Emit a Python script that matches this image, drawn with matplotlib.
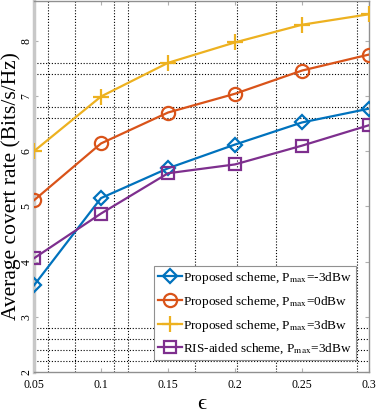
import matplotlib
matplotlib.use("Agg")
import matplotlib.pyplot as plt

eps = [0.05, 0.10, 0.15, 0.20, 0.25, 0.30]
prop_m3 = [3.57, 5.15, 5.69, 6.12, 6.52, 6.77]
prop_0 = [5.11, 6.14, 6.70, 7.04, 7.46, 7.75]
prop_3 = [6.00, 6.99, 7.60, 7.97, 8.29, 8.48]
ris_m3 = [4.06, 4.87, 5.60, 5.76, 6.10, 6.47]

labels = [r'Proposed scheme, P$_{\mathrm{max}}$=-3dBw',
          r'Proposed scheme, P$_{\mathrm{max}}$=0dBw',
          r'Proposed scheme, P$_{\mathrm{max}}$=3dBw',
          r'RIS-aided scheme, P$_{\mathrm{max}}$=3dBw']
xticks = [0.05, 0.1, 0.15, 0.2, 0.25, 0.3]
xtick_labels = ['0.05', '0.1', '0.15', '0.2', '0.25', '0.3']
yticks = [2, 3, 4, 5, 6, 7, 8]
xgrid = [0.0604, 0.0806, 0.1097, 0.1201, 0.15, 0.1701, 0.2015, 0.2306, 0.291]
ygrid = [2.2, 2.4, 2.6, 2.8, 3, 4, 5, 6, 6.6, 6.8, 7, 7.4, 7.6, 8]

plt.rcParams['font.family'] = ['Liberation Serif', 'DejaVu Serif']
plt.rcParams['mathtext.fontset'] = 'stix'

fig = plt.figure(figsize=(3.78, 4.16), dpi=100)
ax = fig.add_axes([34/378, 1 - 372/416, (369-34)/378, (372-1)/416])

styles = [
    dict(color='#0072BD', marker='D', ms=7.5),
    dict(color='#D95319', marker='o', ms=9.5),
    dict(color='#EDB120', marker='+', ms=11),
    dict(color='#7E2F8E', marker='s', ms=8),
]
for ys, lab, st in zip([prop_m3, prop_0, prop_3, ris_m3], labels, styles):
    ax.plot(eps, ys, color=st['color'], marker=st['marker'], ms=st['ms'],
            mfc='none', mew=1.6, lw=1.6, label=lab, zorder=3)

ax.set_xlim(0.05, 0.3)
ax.set_ylim(2, 8.72)
ax.set_xticks(xticks)
ax.set_xticklabels(xtick_labels)
ax.set_yticks(yticks)
ax.set_yticklabels([str(v) for v in yticks], rotation=90, va='center')
ax.set_xticks(xgrid, minor=True)
ax.set_yticks(ygrid, minor=True)
ax.grid(False)
ax.grid(which='minor', color='black', linestyle=(0, (1, 1.6)), linewidth=0.8)
ax.tick_params(which='minor', length=0)
ax.tick_params(which='major', direction='in', length=3, color='#b0b0b0',
               labelsize=8.5, top=True, right=True)
ax.tick_params(axis='x', pad=5)
ax.tick_params(axis='y', pad=1)

for side in ['top', 'right', 'bottom']:
    ax.spines[side].set_color('#909090')
    ax.spines[side].set_linewidth(1.0)
ax.spines['left'].set_color('#c8c8c8')
ax.spines['left'].set_linewidth(2.5)

ax.set_ylabel('Average covert rate (Bits/s/Hz)', fontsize=15.5, labelpad=0)
ax.set_xlabel('ϵ', fontsize=16, labelpad=3)

leg = ax.legend(loc='lower right',
                bbox_to_anchor=((356 - 34) / 335, (372 - 360) / 371),
                bbox_transform=ax.transAxes, fontsize=9.5, handlelength=1.8,
                handletextpad=0.1, borderpad=0.3, labelspacing=0.6,
                fancybox=False, framealpha=1, edgecolor='#909090',
                borderaxespad=0.0)
leg.get_frame().set_linewidth(0.8)

fig.savefig('out.png', dpi=100)
